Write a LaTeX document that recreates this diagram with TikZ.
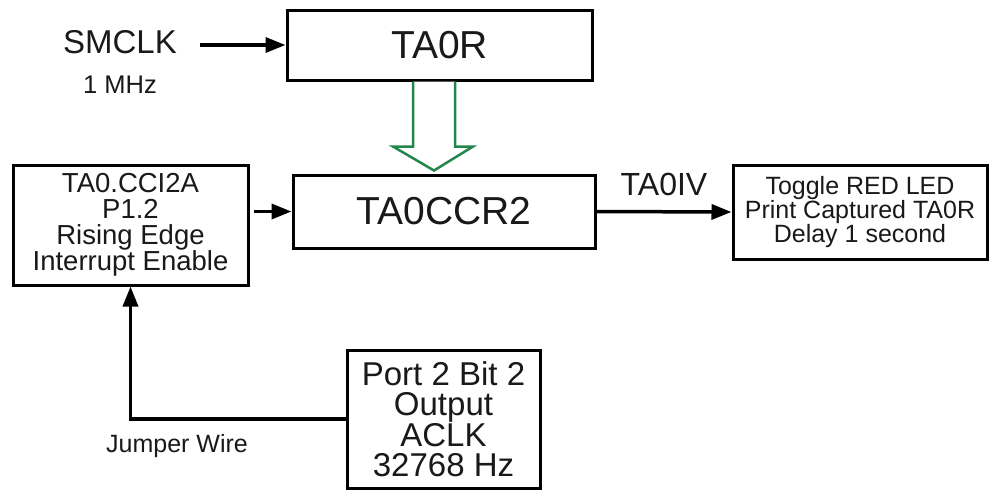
\documentclass[tikz,border=0pt]{standalone}
\usepackage{fontspec}
\setmainfont{Liberation Sans}
\usetikzlibrary{arrows.meta,calc}
\definecolor{arrgreen}{RGB}{34,134,74}
\begin{document}
\begin{tikzpicture}[x=1pt,y=-1pt,
  box/.style={draw,line width=3pt,inner sep=0pt,align=center,text=black!90},
  arr/.style={line width=3.5pt,-{Triangle[length=20pt,width=15pt]}},
  lbl/.style={inner sep=0pt,text=black!90}]
\useasboundingbox (0,0) rectangle (989,491);
\fill[white] (0,0) rectangle (989,491);
\node[box,minimum width=305pt,minimum height=70pt,font=\fontsize{39}{39}\selectfont] (ta0r) at (439.5,45) {TA0R};
\node[box,minimum width=302pt,minimum height=73pt,font=\fontsize{39}{39}\selectfont] (ccr) at (444,211.5) {TA0CCR2};
\node[box,minimum width=235pt,minimum height=120pt,font=\fontsize{27.5}{26}\selectfont] (cci) at (130.5,225) {TA0.CCI2A\\P1.2\\Rising Edge\\Interrupt Enable};
\node[box,minimum width=254pt,minimum height=94pt,font=\fontsize{25}{24}\selectfont] (isr) at (860,212) {Toggle RED LED\\Print Captured TA0R\\Delay 1 second};
\node[box,minimum width=193pt,minimum height=138pt,font=\fontsize{33}{30.5}\selectfont] (port) at (443.5,419) {Port 2 Bit 2\\Output\\ACLK\\32768 Hz};
\node[lbl,font=\fontsize{33}{33}\selectfont] (smclk) at (120,42) {SMCLK};
\node[lbl,font=\fontsize{25.5}{25.5}\selectfont] (mhz) at (120,85) {1 MHz};
\node[lbl,font=\fontsize{25}{25}\selectfont] (jw) at (177,446) {Jumper Wire};
\coordinate (smstart) at (200,45);
\draw[arr] (smstart) -- (ta0r.west);
\draw[arr] ($(cci.east |- ccr.west)+(4,0)$) -- (ccr.west);
\draw[arr] (ccr.east) -- node[lbl,above=14pt,font=\fontsize{32}{32}\selectfont] (ta0iv) {TA0IV} (isr.west);
\draw[arr] (port.west) -| (cci.south);
\draw[arrgreen,line width=2.5pt,fill=white,line join=miter]
  ($(ta0r.south)+(-26.5,0)$) -- ($(ta0r.south |- ccr.north)+(-26.5,-27)$)
  -- ($(ta0r.south |- ccr.north)+(-46.5,-27)$)
  -- ($(ta0r.south |- ccr.north)+(-5.5,-3)$)
  -- ($(ta0r.south |- ccr.north)+(33.5,-27)$)
  -- ($(ta0r.south |- ccr.north)+(15.5,-27)$)
  -- ($(ta0r.south)+(15.5,0)$);
\end{tikzpicture}
\end{document}
